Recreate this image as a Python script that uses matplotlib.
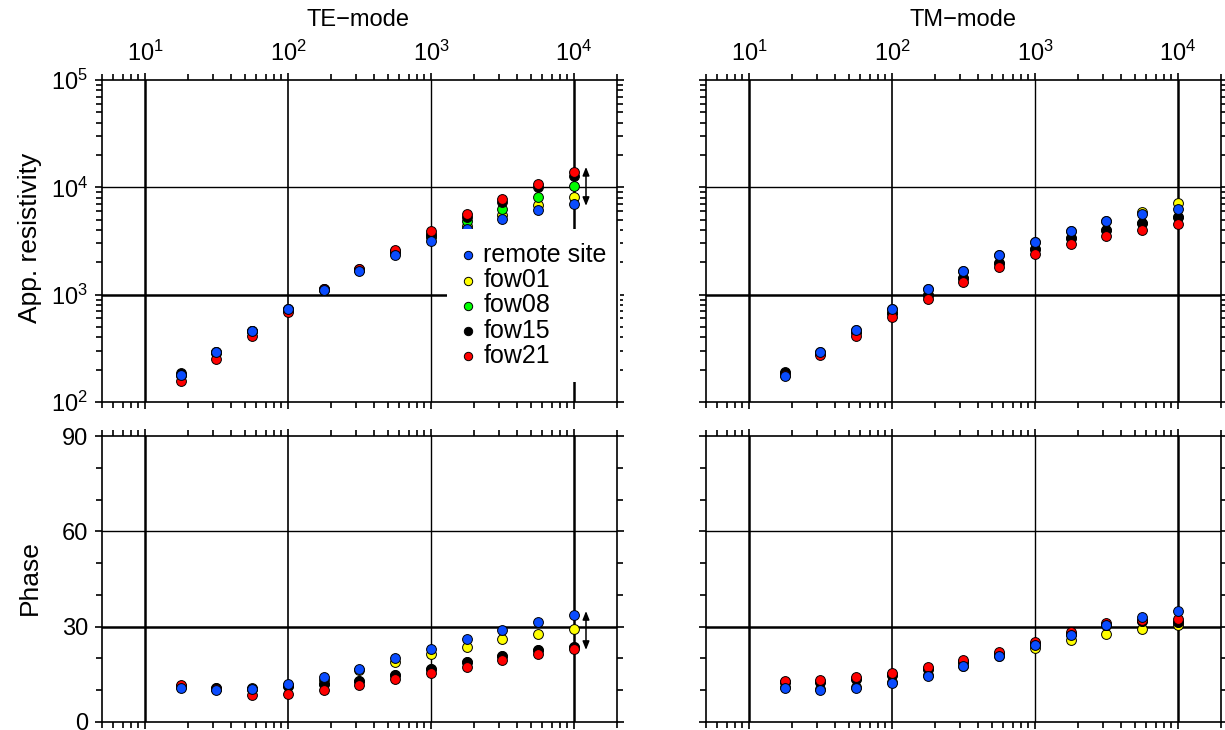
import numpy as np
import matplotlib
matplotlib.use("Agg")
import matplotlib.pyplot as plt
from matplotlib.ticker import LogLocator, FixedLocator, MultipleLocator, LogFormatterSciNotation, NullFormatter

plt.rcParams['font.family'] = ['Liberation Sans', 'DejaVu Sans']
plt.rcParams['mathtext.fontset'] = 'custom'
plt.rcParams['mathtext.rm'] = 'Liberation Sans'
plt.rcParams['mathtext.it'] = 'Liberation Sans:italic'
plt.rcParams['mathtext.bf'] = 'Liberation Sans:bold'

# ---------------- data ----------------
periods = [17.8, 31.6, 56.2, 100, 178, 316, 562, 1000, 1778, 3162, 5623, 10000]

series_names = ["remote site", "fow01", "fow08", "fow15", "fow21"]
series_colors = ["#0a4cff", "#ffff00", "#00ff00", "#000000", "#ff0000"]

# TE apparent resistivity
te_rho_remote = [177, 293, 462, 741, 1114, 1660, 2350, 3180, 4110, 5090, 6170, 7030]
te_rho_fow01 = [178, 290, 455, 730, 1120, 1700, 2450, 3500, 4390, 5550, 6870, 8160]
te_rho_fow08 = [180, 288, 455, 725, 1110, 1690, 2500, 3450, 4880, 6310, 8160, 10330]
te_rho_fow15 = [186, 292, 458, 735, 1130, 1720, 2550, 3700, 5250, 7330, 10100, 12800]
te_rho_fow21 = [156, 254, 415, 690, 1120, 1730, 2620, 3930, 5660, 7820, 10780, 13930]

# TE phase
te_phi_remote = [10.7, 10.1, 10.4, 12.0, 14.2, 16.7, 20.1, 23.0, 26.1, 29.0, 31.5, 33.7]
te_phi_fow01 = [11.0, 10.4, 10.6, 11.8, 13.3, 16.4, 18.9, 21.4, 23.6, 26.1, 27.7, 29.3]
te_phi_fow08 = [11.4, 10.7, 10.5, 11.2, 12.0, 12.9, 14.8, 16.7, 18.9, 20.8, 22.7, 23.6]
te_phi_fow15 = [11.4, 10.7, 10.5, 11.2, 12.0, 12.9, 14.8, 16.7, 18.9, 20.8, 22.7, 23.6]
te_phi_fow21 = [11.8, 10.4, 8.6, 8.8, 10.1, 11.6, 13.5, 15.4, 17.3, 19.5, 21.4, 23.0]

# TM apparent resistivity
tm_rho_remote = [175, 293, 470, 736, 1130, 1660, 2354, 3110, 3938, 4810, 5590, 6350]
tm_rho_fow01 = [177, 292, 468, 730, 1120, 1650, 2340, 3090, 3920, 4850, 5950, 7130]
tm_rho_fow08 = [188, 285, 450, 676, 986, 1418, 1972, 2660, 3340, 4000, 4650, 5320]
tm_rho_fow15 = [189, 285, 450, 676, 986, 1418, 1972, 2660, 3340, 4000, 4650, 5320]
tm_rho_fow21 = [178, 272, 416, 624, 904, 1303, 1795, 2390, 2960, 3540, 4000, 4550]

# TM phase
tm_phi_remote = [10.7, 10.0, 10.7, 12.3, 14.5, 17.5, 20.7, 24.1, 27.5, 30.4, 32.9, 34.8]
tm_phi_fow01 = [11.0, 10.3, 11.0, 12.5, 14.7, 17.6, 20.8, 23.2, 25.7, 27.8, 29.2, 30.5]
tm_phi_fow08 = [12.5, 12.6, 13.6, 14.9, 16.8, 18.9, 21.5, 24.7, 27.8, 30.5, 31.9, 31.6]
tm_phi_fow15 = [12.5, 12.6, 13.6, 14.9, 16.8, 18.9, 21.5, 24.7, 27.8, 30.5, 31.9, 31.6]
tm_phi_fow21 = [13.0, 13.1, 14.1, 15.4, 17.3, 19.4, 22.0, 25.2, 28.3, 31.0, 32.2, 32.5]

te_rho = [te_rho_remote, te_rho_fow01, te_rho_fow08, te_rho_fow15, te_rho_fow21]
te_phi = [te_phi_remote, te_phi_fow01, te_phi_fow08, te_phi_fow15, te_phi_fow21]
tm_rho = [tm_rho_remote, tm_rho_fow01, tm_rho_fow08, tm_rho_fow15, tm_rho_fow21]
tm_phi = [tm_phi_remote, tm_phi_fow01, tm_phi_fow08, tm_phi_fow15, tm_phi_fow21]

phase_ticks = [0, 30, 60, 90]
draw_order = [1, 2, 3, 4, 0]   # remote site drawn last

# ---------------- figure ----------------
W, H = 1225, 730
fig = plt.figure(figsize=(W / 100, H / 100), dpi=100)

def fx(px):
    return px / W

def fy(py):
    return 1 - py / H

axw = 515 / W
ax_te_r = fig.add_axes([fx(102), fy(402), axw, (402 - 80) / H])
ax_tm_r = fig.add_axes([fx(706), fy(402), axw, (402 - 80) / H])
ax_te_p = fig.add_axes([fx(102), fy(722), axw, (722 - 436) / H])
ax_tm_p = fig.add_axes([fx(706), fy(722), axw, (722 - 436) / H])

FS = 17
LW = 1.2

def style(ax, is_rho, show_ylabels, show_xlabels):
    ax.set_xscale('log')
    ax.set_xlim(5, 2e4)
    ax.xaxis.set_major_locator(LogLocator(base=10, numticks=10))
    ax.xaxis.set_minor_locator(LogLocator(base=10, subs=np.arange(2, 10), numticks=20))
    ax.xaxis.set_minor_formatter(NullFormatter())
    if is_rho:
        ax.set_yscale('log')
        ax.set_ylim(1e2, 1e5)
        ax.yaxis.set_major_locator(LogLocator(base=10, numticks=10))
        ax.yaxis.set_minor_locator(LogLocator(base=10, subs=np.arange(2, 10), numticks=20))
        ax.yaxis.set_minor_formatter(NullFormatter())
        ax.yaxis.set_major_formatter(LogFormatterSciNotation())
        ax.axhline(1e3, color='black', lw=1.8, zorder=0.5)
        ax.axhline(1e4, color='black', lw=1.0, zorder=0.5)
    else:
        ax.set_ylim(0, 90)
        ax.yaxis.set_major_locator(FixedLocator(phase_ticks))
        ax.yaxis.set_minor_locator(MultipleLocator(10))
        ax.axhline(30, color='black', lw=1.8, zorder=0.5)
        ax.axhline(60, color='black', lw=1.0, zorder=0.5)
    for dec, w in [(1e1, 1.8), (1e2, 1.2), (1e3, 1.0), (1e4, 1.8)]:
        ax.axvline(dec, color='black', lw=w, zorder=0.5)
    ax.xaxis.set_major_formatter(LogFormatterSciNotation())
    ax.tick_params(which='both', direction='out', top=True, right=True,
                   bottom=True, left=True, width=LW, labelsize=FS)
    ax.tick_params(which='major', length=5)
    ax.tick_params(which='minor', length=4)
    ax.tick_params(axis='x', labeltop=show_xlabels, labelbottom=False, pad=5)
    ax.tick_params(axis='y', labelleft=show_ylabels, labelright=False, pad=5)
    for s in ax.spines.values():
        s.set_linewidth(LW)

style(ax_te_r, True, True, True)
style(ax_tm_r, True, False, True)
style(ax_te_p, False, True, False)
style(ax_tm_p, False, False, False)

def plot_set(ax, data):
    handles = {}
    for i in draw_order:
        h = ax.scatter(periods, data[i], s=50, c=series_colors[i], edgecolors='black',
                       linewidths=0.7, zorder=2.2, label=series_names[i])
        handles[i] = h
    return handles

hte = plot_set(ax_te_r, te_rho)
plot_set(ax_tm_r, tm_rho)
plot_set(ax_te_p, te_phi)
plot_set(ax_tm_p, tm_phi)

leg = ax_te_r.legend([hte[i] for i in range(5)], series_names, loc='upper left',
                     bbox_to_anchor=(0.67, 0.537), borderaxespad=0, frameon=True,
                     fancybox=False, edgecolor='none', facecolor='white', framealpha=1,
                     fontsize=18, handlelength=0.6, handletextpad=0.3,
                     labelspacing=0.05, borderpad=0.55, markerscale=0.85)
leg.set_zorder(2.3)

# scale arrows
for ax, (y0, y1) in [(ax_te_r, (0.609, 0.730)), (ax_te_p, (0.252, 0.388))]:
    ax.annotate('', xy=(0.9398, y1), xytext=(0.9398, y0), xycoords='axes fraction',
                arrowprops=dict(arrowstyle='<|-|>,head_length=0.5,head_width=0.2',
                                color='black', lw=1.1, shrinkA=0, shrinkB=0))

fig.text(fx(358), fy(20), 'TE\u2212mode', ha='center', va='center', fontsize=FS)
fig.text(fx(963), fy(20), 'TM\u2212mode', ha='center', va='center', fontsize=FS)
fig.text(fx(30), fy(238), 'App. resistivity', ha='center', va='center',
         rotation=90, fontsize=19)
fig.text(fx(30), fy(578), 'Phase', ha='center', va='center', rotation=90, fontsize=19)

fig.savefig('out.png', dpi=100)
